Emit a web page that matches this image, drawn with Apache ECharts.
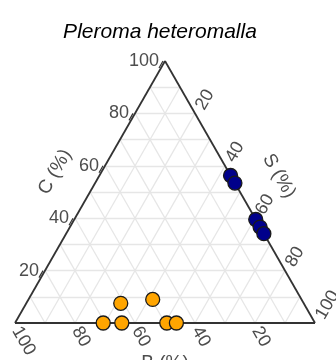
<!DOCTYPE html>
<html><head><meta charset="utf-8">
<script src="https://cdn.jsdelivr.net/npm/echarts@6/dist/echarts.min.js"></script>
<style>html,body{margin:0;padding:0;background:#fff}#c{width:336px;height:360px}</style>
</head><body><div id="c"></div>
<script>
// Ternary composition data (B, C, S in %)
var orangeB = [70.6, 64.4, 49.4, 46.2, 61.0, 49.6];
var orangeC = [0, 0, 0, 0, 7.5, 9.0];
var orangeS = [29.4, 35.6, 50.6, 53.8, 31.5, 41.4];
var blueB = [0, 0, 0, 0, 0];
var blueC = [56.3, 53.4, 39.5, 36.6, 34.1];
var blueS = [43.7, 46.6, 60.5, 63.4, 65.9];
var tickVals = [20, 40, 60, 80, 100];
var gridVals = [10, 20, 30, 40, 50, 60, 70, 80, 90];
var titleText = 'Pleroma heteromalla';

function toXY(b, c, s) { var t = b + c + s; return [(s + c / 2) / t * 100, c / t * 100]; }

var gridLines = [];
gridVals.forEach(function (k) {
  gridLines.push({coords: [toXY(100 - k, k, 0), toXY(0, k, 100 - k)]}); // C = k
  gridLines.push({coords: [toXY(100 - k, 0, k), toXY(0, 100 - k, k)]}); // S = k
  gridLines.push({coords: [toXY(k, 0, 100 - k), toXY(k, 100 - k, 0)]}); // B = k
});
var outline = [
  {coords: [toXY(100, 0, 0), toXY(0, 100, 0)]},
  {coords: [toXY(0, 100, 0), toXY(0, 0, 100)]},
  {coords: [toXY(0, 0, 100), toXY(100, 0, 0)]}
];
var cTicks = tickVals.map(function (k) { var p = toXY(100 - k, k, 0); return [p[0], p[1], k]; });
var sTicks = tickVals.map(function (k) { var p = toXY(0, 100 - k, k); return [p[0], p[1], k]; });
var bTicks = tickVals.map(function (k) { var p = toXY(k, 0, 100 - k); return [p[0], p[1], k]; });

var labColor = '#4d4d4d', labFont = 18, fam = 'Liberation Sans, Arial, sans-serif';
function labelSeries(data, dx, dy, rot, align, tick) {
  return {
    type: 'custom', coordinateSystem: 'cartesian2d', data: data, silent: true, z: 5,
    renderItem: function (params, api) {
      var pt = api.coord([api.value(0), api.value(1)]);
      var children = [{
        type: 'text', x: pt[0] + dx, y: pt[1] + dy, rotation: rot,
        style: {text: String(api.value(2)), align: align, verticalAlign: 'middle',
                fontSize: labFont, fill: labColor, fontFamily: fam}
      }];
      if (tick) children.push({type: 'line', shape: {x1: pt[0] + tick[0], y1: pt[1] + tick[1], x2: pt[0] + tick[2], y2: pt[1] + tick[3]},
        style: {stroke: '#333', lineWidth: 1.2}});
      return {type: 'group', children: children};
    }
  };
}
function pts(B, C, S) { return B.map(function (b, i) { return toXY(b, C[i], S[i]); }); }

var chart = echarts.init(document.getElementById('c'), null, {renderer: 'canvas'});
chart.setOption({
  animation: false,
  grid: {left: 15, right: 21, top: 61, bottom: 37},
  xAxis: {type: 'value', min: 0, max: 100, show: false},
  yAxis: {type: 'value', min: 0, max: 100, show: false},
  graphic: [
    {type: 'text', x: 160, y: 32, style: {text: titleText, align: 'center', verticalAlign: 'middle', fontSize: 21, fontStyle: 'italic', fill: '#000', fontFamily: fam}},
    {type: 'text', x: 55, y: 172, rotation: Math.PI / 3, style: {text: 'C (%)', align: 'center', verticalAlign: 'middle', fontSize: 19, fill: labColor, fontFamily: fam}},
    {type: 'text', x: 279, y: 176, rotation: -Math.PI / 3, style: {text: 'S (%)', align: 'center', verticalAlign: 'middle', fontSize: 19, fill: labColor, fontFamily: fam}},
    {type: 'text', x: 165, y: 363, style: {text: 'B (%)', align: 'center', verticalAlign: 'middle', fontSize: 19, fill: labColor, fontFamily: fam}}
  ],
  series: [
    {type: 'lines', coordinateSystem: 'cartesian2d', data: gridLines, silent: true, z: 1,
     lineStyle: {color: '#e6e6e6', width: 1.3, opacity: 1}},
    {type: 'lines', coordinateSystem: 'cartesian2d', data: outline, silent: true, z: 3,
     lineStyle: {color: '#333333', width: 1.8, opacity: 1}},
    labelSeries(cTicks, -6, 0, 0, 'right', [-6, 7, -2, 0]),
    labelSeries(sTicks, 5, -5, Math.PI / 3, 'left', null),
    labelSeries(bTicks, 1, 5, -Math.PI / 3, 'left', null),
    {type: 'scatter', data: pts(orangeB, orangeC, orangeS), symbolSize: 14, z: 10,
     itemStyle: {color: '#FFA500', borderColor: '#1a1a1a', borderWidth: 1.3, opacity: 1}},
    {type: 'scatter', data: pts(blueB, blueC, blueS), symbolSize: 14, z: 10,
     itemStyle: {color: '#00008B', borderColor: '#1a1a1a', borderWidth: 1.3, opacity: 1}}
  ]
});
</script></body></html>
